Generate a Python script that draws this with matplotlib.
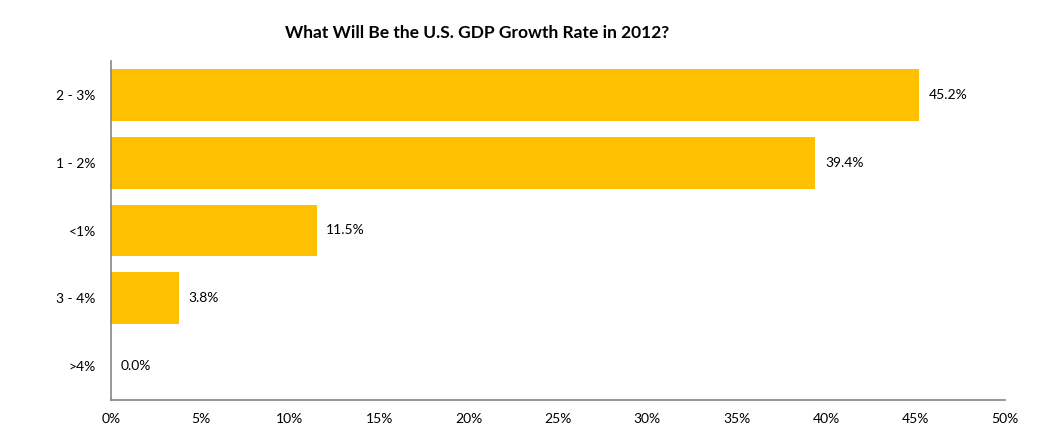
import matplotlib
matplotlib.use("Agg")
import matplotlib.pyplot as plt
from matplotlib.ticker import FuncFormatter

plt.rcParams['font.family'] = ['Lato', 'DejaVu Sans']

# donnees du sondage (de haut en bas)
categories = ["2 - 3%", "1 - 2%", "<1%", "3 - 4%", ">4%"]
valeurs = [45.2, 39.4, 11.5, 3.8, 0.0]
x_ticks = [0, 5, 10, 15, 20, 25, 30, 35, 40, 45, 50]
titre = "What Will Be the U.S. GDP Growth Rate in 2012?"

W, H = 1042, 440
fig = plt.figure(figsize=(W / 100, H / 100), dpi=100)
# position des axes en pixels -> fraction
left, right, top, bottom = 111, 1005, 61, 400
ax = fig.add_axes([left / W, 1 - bottom / H, (right - left) / W, (bottom - top) / H])

y = list(range(len(categories)))
ax.barh(y, valeurs, height=0.765, color="#FFC000")
ax.set_ylim(len(categories) - 0.5, -0.5)
ax.set_xlim(0, 50)

# etiquettes de valeur a droite des barres
for yi, v in zip(y, valeurs):
    ax.annotate(f"{v:.1f}%", (v, yi), xytext=(7, 0), textcoords="offset points",
                va="center", ha="left", fontsize=10, color="#000000")

ax.set_yticks(y)
ax.set_yticklabels(categories)
ax.set_xticks(x_ticks)
ax.xaxis.set_major_formatter(FuncFormatter(lambda v, p: f"{v:.0f}%"))
ax.tick_params(axis="both", length=0, labelsize=10, colors="#000000")
ax.tick_params(axis="y", pad=11)
ax.tick_params(axis="x", pad=9)

for s in ["top", "right"]:
    ax.spines[s].set_visible(False)
for s in ["left", "bottom"]:
    ax.spines[s].set_color("#868686")
    ax.spines[s].set_linewidth(1.2)

fig.text(477 / W, 1 - 33 / H, titre, ha="center", va="center",
         fontsize=12.5, fontweight="bold")

fig.savefig("out.png", dpi=100)
